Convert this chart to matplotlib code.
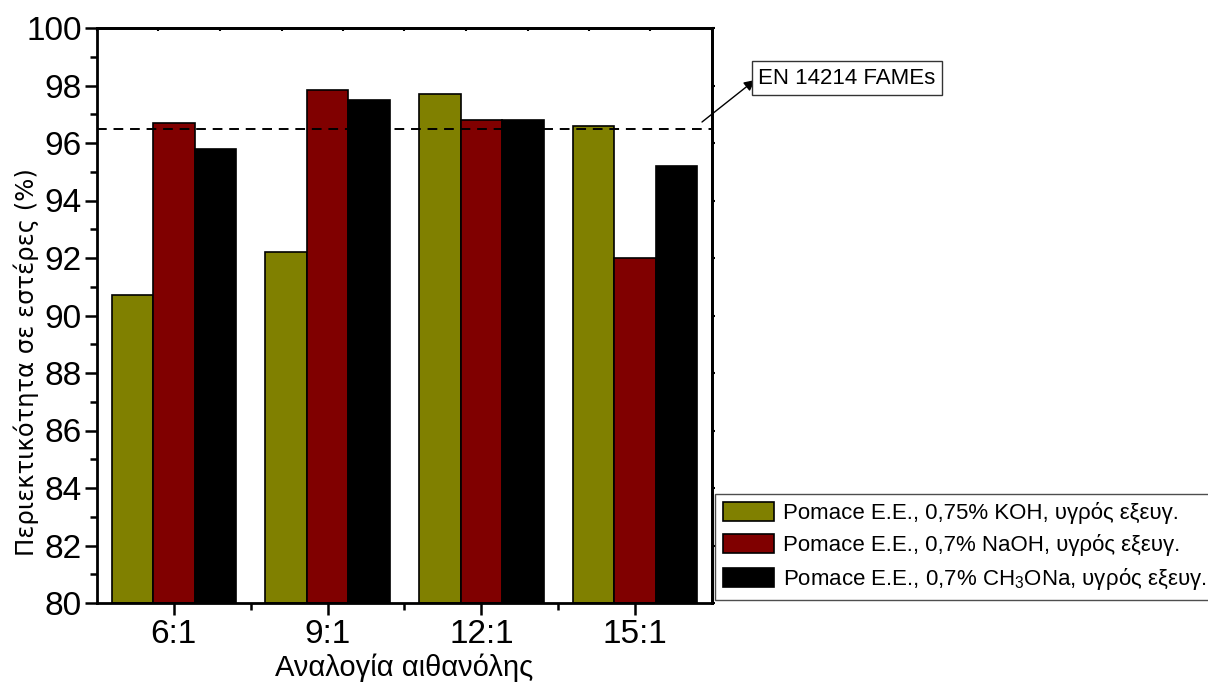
import matplotlib

matplotlib.use("Agg")
import matplotlib.pyplot as plt
import numpy as np
from matplotlib.patches import FancyArrowPatch

plt.rcParams["font.family"] = ["Liberation Sans", "DejaVu Sans"]
plt.rcParams["mathtext.default"] = "regular"

ratios = ["6:1", "9:1", "12:1", "15:1"]
koh = [90.7, 92.2, 97.7, 96.6]
naoh = [96.7, 97.85, 96.8, 92.0]
ch3ona = [95.8, 97.5, 96.8, 95.2]
labels = [
    "Pomace E.E., 0,75% KOH, υγρός εξευγ.",
    "Pomace E.E., 0,7% NaOH, υγρός εξευγ.",
    "Pomace E.E., 0,7% CH$_3$ONa, υγρός εξευγ.",
]
colors = ["#808000", "#800000", "#000000"]
limit = 96.5

W, H = 1208, 688
fig = plt.figure(figsize=(W / 100, H / 100), dpi=100)
ax = fig.add_axes([97 / W, 1 - 603 / H, 615 / W, 575 / H])

x = np.arange(1, len(ratios) + 1)
w = 0.27
for i, (vals, lab, col) in enumerate(zip([koh, naoh, ch3ona], labels, colors)):
    ax.bar(x + (i - 1) * w, np.array(vals) - 80, bottom=80, width=w,
           color=col, edgecolor="black", linewidth=1.2, label=lab, zorder=2)

# EN 14214 minimum ester content
ax.axhline(limit, color="black", lw=1.4, ls=(0, (5, 3.5)), zorder=3)

ax.set_xlim(0.5, 4.5)
ax.set_ylim(80, 100)
ax.set_xticks(x)
ax.set_xticklabels(ratios)
ax.set_xticks([1.5, 2.5, 3.5], minor=True)
ax.set_yticks(np.arange(80, 101, 2))
ax.set_yticks(np.arange(81, 100, 2), minor=True)

for s in ax.spines.values():
    s.set_linewidth(2)

ax.tick_params(axis="both", which="major", labelsize=24, width=1.8, length=8.5)
ax.tick_params(axis="both", which="minor", width=1.8, length=5)
ax.tick_params(axis="y", which="major", pad=2.5)
ax.tick_params(axis="x", which="major", pad=3)
ax.tick_params(axis="y", which="minor", right=False)

# short marks on the right edge
right = ax.secondary_yaxis("right")
right.set_yticks(np.arange(80, 101, 2))
right.tick_params(direction="out", length=2, width=1.5, labelright=False)
right.spines["right"].set_linewidth(2)

# short marks along the top edge
top = ax.secondary_xaxis("top")
top.set_xticks(np.arange(0.5, 4.51, 0.4))
top.tick_params(direction="in", length=2, width=1.5, labeltop=False)
top.spines["top"].set_linewidth(2)

ax.set_xlabel("Αναλογία αιθανόλης", fontsize=21)
ax.xaxis.set_label_coords(0.5, -0.087)
ax.xaxis.label.set_va("top")
ax.set_ylabel("Περιεκτικότητα σε εστέρες (%)", fontsize=17.5, family="DejaVu Sans")
ax.yaxis.set_label_coords((26 - 97) / 615, (603 - 362) / 575)
ax.yaxis.label.set_va("center")

fig.text(847 / W, 1 - 78 / H, "EN 14214 FAMEs", fontsize=16,
         ha="center", va="center",
         bbox=dict(boxstyle="square,pad=0.28", fc="white", ec="#333333", lw=1))
fig.add_artist(FancyArrowPatch(
    (702 / W, 1 - 122 / H), (755 / W, 1 - 80 / H),
    transform=fig.transFigure, arrowstyle="-|>", mutation_scale=16,
    color="black", lw=1, shrinkA=0, shrinkB=0,
))

leg = fig.legend(
    loc="lower left",
    bbox_to_anchor=(715 / W, 1 - 600 / H),
    fontsize=16,
    frameon=True,
    fancybox=False,
    edgecolor="#222222",
    handlelength=2.3,
    handleheight=0.9,
    handletextpad=0.4,
    labelspacing=0.45,
    borderpad=0.35,
    borderaxespad=0,
)
leg.get_frame().set_linewidth(1)

fig.savefig("out.png", dpi=100)
